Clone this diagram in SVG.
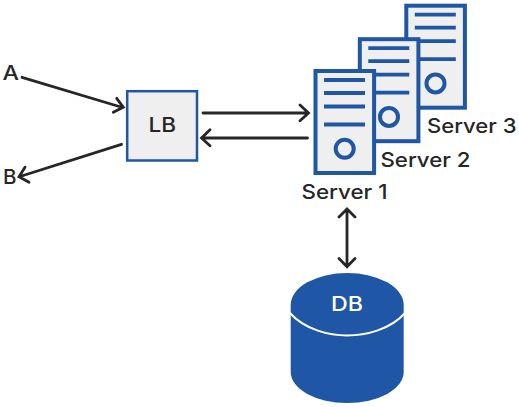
<svg xmlns="http://www.w3.org/2000/svg" width="519" height="407" viewBox="0 0 519 407">
<style>
text{font-family:"Inter","Liberation Sans",sans-serif;font-size:20px;font-weight:500;fill:#262626}
.box{fill:#efefef;stroke:#1f56a5;stroke-width:4}
.bar{stroke:#1f56a5;stroke-width:3.8;fill:none}
.hole{fill:#efefef;stroke:#1f56a5;stroke-width:4}
.c{stroke:#262626;stroke-width:2.8;fill:none;stroke-linecap:round;stroke-linejoin:miter}
</style>
<defs>
<g id="server">
<rect class="box" x="315.500" y="71" width="58.600" height="102"/>
<path class="bar" d="M324 80H365M324 93H365M324 106.500H365M324 124.500H365"/>
<circle class="hole" cx="344.700" cy="148.700" r="9"/>
</g>
</defs>
<rect width="519" height="407" fill="#fff"/>
<g id="server3"><use href="#server" x="90.800" y="-65.300"/><text x="427" y="133" textLength="89.500" lengthAdjust="spacingAndGlyphs">Server 3</text></g>
<g id="server2"><use href="#server" x="44.300" y="-31.800"/><text x="380.500" y="167" textLength="90" lengthAdjust="spacingAndGlyphs">Server 2</text></g>
<g id="server1"><use href="#server"/><text x="301.500" y="199" textLength="86" lengthAdjust="spacingAndGlyphs">Server 1</text></g>
<g id="lb"><rect x="127.200" y="91.200" width="69.800" height="69.300" fill="#efefef" stroke="#1f56a5" stroke-width="2.500"/><text x="148.500" y="132" textLength="27.500" lengthAdjust="spacingAndGlyphs">LB</text></g>
<g id="a"><text x="2.500" y="80" textLength="16.500" lengthAdjust="spacingAndGlyphs">A</text></g>
<g id="b"><text x="3" y="184" textLength="13.500" lengthAdjust="spacingAndGlyphs">B</text></g>
<g id="db">
<path d="M290.700 305A56.500 32 0 0 1 403.700 305V372A56.500 31 0 0 1 290.700 372Z" fill="#1f56a5"/>
<path d="M290 313C305 330 330 335.500 347 335.500C365 335.500 390 330 405 313" fill="none" stroke="#fff" stroke-width="2"/>
<text x="331" y="311" textLength="32" lengthAdjust="spacingAndGlyphs" style="fill:#fff">DB</text>
</g>
<g id="connectors">
<path class="c" d="M22 77.300L122.500 107.500M116.700 98.300L123.300 107.300L113.300 112.300"/>
<path class="c" d="M121.500 144.300L20 176.500M25 167.300L19 176.700L29 182.300"/>
<path class="c" d="M203 113H308M300 105L308.500 113L300 120.700"/>
<path class="c" d="M307.500 138H202M210 129.700L201.500 138L210 145.700"/>
<path class="c" d="M347 210V266M339 217L347 209L355 217M339 258.500L347 266.700L355 258.500"/>
</g>
</svg>
